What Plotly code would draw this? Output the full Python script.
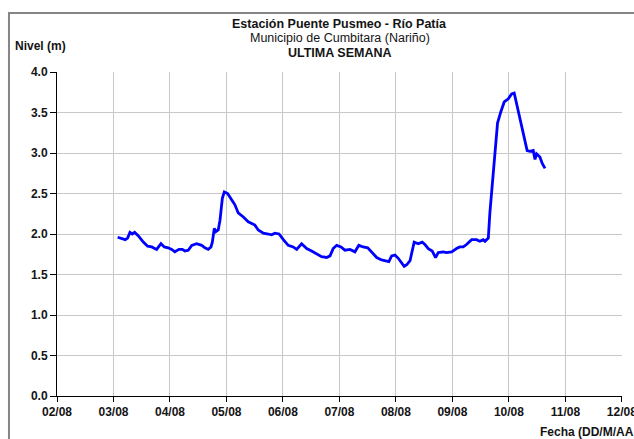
import plotly.graph_objects as go

# Nivel del río Patía en la estación Puente Pusmeo, última semana
fecha = [
    "2021-08-03 01:45", "2021-08-03 03:30", "2021-08-03 05:00", "2021-08-03 06:00",
    "2021-08-03 07:00", "2021-08-03 08:00", "2021-08-03 09:00", "2021-08-03 10:30",
    "2021-08-03 12:40", "2021-08-03 14:30", "2021-08-03 16:15", "2021-08-03 18:20",
    "2021-08-03 20:10", "2021-08-03 21:35", "2021-08-03 23:15", "2021-08-04 00:45",
    "2021-08-04 02:05", "2021-08-04 03:50", "2021-08-04 05:15", "2021-08-04 06:20",
    "2021-08-04 07:45", "2021-08-04 09:15", "2021-08-04 11:20", "2021-08-04 13:30",
    "2021-08-04 14:50", "2021-08-04 16:15", "2021-08-04 17:25", "2021-08-04 18:00",
    "2021-08-04 18:50", "2021-08-04 19:30", "2021-08-04 20:30", "2021-08-04 21:15",
    "2021-08-04 22:15", "2021-08-04 23:05", "2021-08-05 00:30", "2021-08-05 02:15",
    "2021-08-05 03:35", "2021-08-05 05:00", "2021-08-05 07:10", "2021-08-05 09:15",
    "2021-08-05 10:40", "2021-08-05 12:05", "2021-08-05 13:30", "2021-08-05 15:40",
    "2021-08-05 17:45", "2021-08-05 19:10", "2021-08-05 20:35", "2021-08-05 22:20",
    "2021-08-06 00:10", "2021-08-06 02:15", "2021-08-06 04:20", "2021-08-06 05:50",
    "2021-08-06 07:55", "2021-08-06 10:05", "2021-08-06 12:10", "2021-08-06 14:20",
    "2021-08-06 16:25", "2021-08-06 18:35", "2021-08-06 20:00", "2021-08-06 21:20",
    "2021-08-06 22:50", "2021-08-07 00:40", "2021-08-07 02:20", "2021-08-07 04:30",
    "2021-08-07 06:35", "2021-08-07 08:15", "2021-08-07 10:05", "2021-08-07 12:00",
    "2021-08-07 13:40", "2021-08-07 15:50", "2021-08-07 17:55", "2021-08-07 20:05",
    "2021-08-07 21:00", "2021-08-07 22:10", "2021-08-07 23:35", "2021-08-08 01:00",
    "2021-08-08 02:25", "2021-08-08 03:30", "2021-08-08 04:35", "2021-08-08 06:00",
    "2021-08-08 06:40", "2021-08-08 07:45", "2021-08-08 09:30", "2021-08-08 11:10",
    "2021-08-08 12:20", "2021-08-08 13:45", "2021-08-08 15:25", "2021-08-08 16:50",
    "2021-08-08 18:00", "2021-08-08 20:05", "2021-08-08 21:30", "2021-08-08 23:40",
    "2021-08-09 01:45", "2021-08-09 03:10", "2021-08-09 04:35", "2021-08-09 06:00",
    "2021-08-09 08:10", "2021-08-09 10:15", "2021-08-09 11:40", "2021-08-09 13:05",
    "2021-08-09 13:50", "2021-08-09 15:15", "2021-08-09 15:55", "2021-08-09 16:40",
    "2021-08-09 17:45", "2021-08-09 19:10", "2021-08-09 20:35", "2021-08-09 22:00",
    "2021-08-09 23:45", "2021-08-10 01:10", "2021-08-10 02:15", "2021-08-10 03:15",
    "2021-08-10 04:15", "2021-08-10 05:25", "2021-08-10 06:30", "2021-08-10 07:45",
    "2021-08-10 08:55", "2021-08-10 10:20", "2021-08-10 11:05", "2021-08-10 11:45",
    "2021-08-10 13:10", "2021-08-10 14:10", "2021-08-10 15:20",
]

nivel = [
    1.96, 1.94, 1.93, 1.95, 2.02, 2.00, 2.02, 1.98,
    1.90, 1.85, 1.84, 1.81, 1.88, 1.84, 1.83, 1.81,
    1.78, 1.81, 1.81, 1.79, 1.80, 1.86, 1.88, 1.86,
    1.83, 1.81, 1.84, 1.90, 2.07, 2.03, 2.05, 2.17,
    2.44, 2.52, 2.50, 2.42, 2.36, 2.26, 2.21, 2.15,
    2.13, 2.11, 2.05, 2.01, 2.00, 1.99, 2.01, 2.00,
    1.93, 1.86, 1.84, 1.81, 1.88, 1.82, 1.79, 1.75,
    1.72, 1.71, 1.73, 1.82, 1.86, 1.84, 1.80, 1.81,
    1.78, 1.86, 1.84, 1.83, 1.78, 1.71, 1.68, 1.67,
    1.66, 1.73, 1.74, 1.70, 1.64, 1.60, 1.62, 1.67,
    1.76, 1.90, 1.88, 1.90, 1.87, 1.82, 1.79, 1.71,
    1.77, 1.78, 1.77, 1.78, 1.82, 1.84, 1.84, 1.87,
    1.93, 1.93, 1.91, 1.93, 1.91, 1.95, 2.26, 2.54,
    2.95, 3.37, 3.51, 3.63, 3.67, 3.73, 3.74, 3.61,
    3.49, 3.30, 3.18, 3.03, 3.02, 3.03, 2.92, 2.99,
    2.95, 2.87, 2.81,
]

# Marcas de los ejes
dias = ["2021-08-%02d" % d for d in range(2, 13)]
etiquetas_dias = ["02/08", "03/08", "04/08", "05/08", "06/08", "07/08",
                  "08/08", "09/08", "10/08", "11/08", "12/08"]
marcas_nivel = [0.0, 0.5, 1.0, 1.5, 2.0, 2.5, 3.0, 3.5, 4.0]
etiquetas_nivel = ["0.0", "0.5", "1.0", "1.5", "2.0", "2.5", "3.0", "3.5", "4.0"]

rango_fecha = ["2021-08-02", "2021-08-12 00:03"]
rango_nivel = [0, 4.0]

titulo = "Estación Puente Pusmeo - Río Patía"
subtitulo = "Municipio de Cumbitara (Nariño)"
periodo = "ULTIMA SEMANA"
eje_y = "Nivel (m)"
eje_x = "Fecha (DD/M/AA"

FONT = "Liberation Sans, Arial, sans-serif"
TXT = "#141414"

fig = go.Figure()
fig.add_trace(go.Scatter(
    x=fecha, y=nivel, mode="lines",
    line=dict(color="#0000ff", width=2.8),
    showlegend=False, hoverinfo="x+y",
))

fig.update_layout(
    width=634, height=439,
    margin=dict(l=57, r=12, t=72, b=43, autoexpand=False),
    paper_bgcolor="white", plot_bgcolor="white",
    font=dict(family=FONT, color=TXT),
    xaxis=dict(
        type="date", range=rango_fecha, automargin=False,
        tickvals=dias, ticktext=["<b>%s</b>" % t for t in etiquetas_dias],
        ticklabeloverflow="allow",
        showgrid=True, gridcolor="#c8c8c8", gridwidth=1,
        showline=True, linecolor="black", linewidth=1,
        ticks="outside", ticklen=5, tickcolor="black",
        tickfont=dict(family=FONT, size=12, color=TXT),
        zeroline=False,
    ),
    yaxis=dict(
        range=rango_nivel, automargin=False,
        tickvals=marcas_nivel, ticktext=["<b>%s</b>" % t for t in etiquetas_nivel],
        showgrid=True, gridcolor="#c8c8c8", gridwidth=1,
        showline=True, linecolor="black", linewidth=1,
        ticks="outside", ticklen=6, tickcolor="black",
        tickfont=dict(family=FONT, size=12, color=TXT),
        zeroline=False,
    ),
    shapes=[dict(
        type="rect", xref="paper", yref="paper",
        x0=-0.085, x1=1.2, y0=-0.3, y1=1.182,
        line=dict(color="#858585", width=2), layer="below",
    )],
    annotations=[
        dict(text="<b>" + titulo + "</b>", xref="paper", yref="paper",
             x=0.5, y=1.148, xanchor="center", yanchor="middle",
             showarrow=False, font=dict(size=12.5, color=TXT)),
        dict(text=subtitulo, xref="paper", yref="paper",
             x=0.5, y=1.104, xanchor="center", yanchor="middle",
             showarrow=False, font=dict(size=12.5, color=TXT)),
        dict(text="<b>" + periodo + "</b>", xref="paper", yref="paper",
             x=0.5, y=1.059, xanchor="center", yanchor="middle",
             showarrow=False, font=dict(size=12.5, color=TXT)),
        dict(text="<b>" + eje_y + "</b>", xref="paper", yref="paper",
             x=-0.078, y=1.080, xanchor="left", yanchor="middle",
             showarrow=False, font=dict(size=12, color=TXT)),
        dict(text="<b>" + eje_x + "</b>", xref="paper", yref="paper",
             x=0.851, y=-0.111, xanchor="left", yanchor="middle",
             showarrow=False, font=dict(size=12, color=TXT)),
    ],
)

fig.write_html("out.html")
